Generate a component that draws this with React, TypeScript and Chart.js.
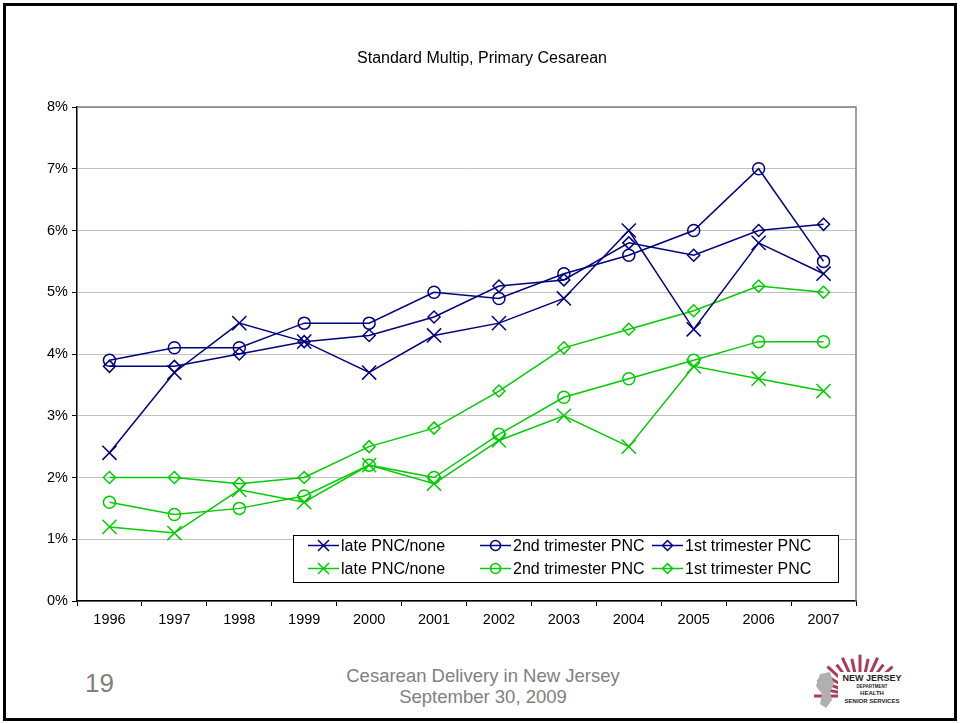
import React, { useEffect, useRef } from "react";
import { Chart, registerables } from "chart.js";

Chart.register(...registerables);

const years = ["1996", "1997", "1998", "1999", "2000", "2001", "2002", "2003", "2004", "2005", "2006", "2007"];

const blueLate = [2.4, 3.7, 4.5, 4.2, 3.7, 4.3, 4.5, 4.9, 6.0, 4.4, 5.8, 5.3];
const blueSecond = [3.9, 4.1, 4.1, 4.5, 4.5, 5.0, 4.9, 5.3, 5.6, 6.0, 7.0, 5.5];
const blueFirst = [3.8, 3.8, 4.0, 4.2, 4.3, 4.6, 5.1, 5.2, 5.8, 5.6, 6.0, 6.1];
const greenLate = [1.2, 1.1, 1.8, 1.6, 2.2, 1.9, 2.6, 3.0, 2.5, 3.8, 3.6, 3.4];
const greenSecond = [1.6, 1.4, 1.5, 1.7, 2.2, 2.0, 2.7, 3.3, 3.6, 3.9, 4.2, 4.2];
const greenFirst = [2.0, 2.0, 1.9, 2.0, 2.5, 2.8, 3.4, 4.1, 4.4, 4.7, 5.1, 5.0];

const seriesLabels = ["late PNC/none", "2nd trimester PNC", "1st trimester PNC", "late PNC/none", "2nd trimester PNC", "1st trimester PNC"];
const yTicks = [0, 1, 2, 3, 4, 5, 6, 7, 8];

const NAVY = "#000080";
const GREEN = "#00CC00";
const FONT = "'Liberation Sans', Arial, sans-serif";

type Mk = "crossRot" | "circle" | "rectRot";
const markerRadius: Record<Mk, number> = { crossRot: 10, circle: 6, rectRot: 6 };

function drawMarker(ctx: CanvasRenderingContext2D, style: Mk, x: number, y: number, s: number) {
  ctx.beginPath();
  if (style === "crossRot") {
    ctx.moveTo(x - s, y - s);
    ctx.lineTo(x + s, y + s);
    ctx.moveTo(x + s, y - s);
    ctx.lineTo(x - s, y + s);
  } else if (style === "circle") {
    ctx.arc(x, y, s, 0, Math.PI * 2);
  } else {
    ctx.moveTo(x - s, y);
    ctx.lineTo(x, y - s);
    ctx.lineTo(x + s, y);
    ctx.lineTo(x, y + s);
    ctx.closePath();
  }
  ctx.stroke();
}

const plotBorderPlugin = {
  id: "plotBorder",
  beforeDatasetsDraw(chart: any) {
    const { ctx, chartArea: a } = chart;
    ctx.save();
    ctx.strokeStyle = "#808080";
    ctx.lineWidth = 1.5;
    ctx.beginPath();
    ctx.moveTo(a.left, a.top);
    ctx.lineTo(a.right, a.top);
    ctx.lineTo(a.right, a.bottom);
    ctx.stroke();
    ctx.restore();
  },
};

const boxLegendPlugin = {
  id: "boxLegend",
  afterDraw(chart: any) {
    const { ctx, chartArea: a } = chart;
    const x0 = a.left + 216;
    const y0 = a.top + 428;
    const w = 545;
    const h = 47;
    ctx.save();
    ctx.fillStyle = "#ffffff";
    ctx.fillRect(x0, y0, w, h);
    ctx.strokeStyle = "#000000";
    ctx.lineWidth = 1;
    ctx.strokeRect(x0 + 0.5, y0 + 0.5, w, h);
    const colX = [15, 187, 359];
    const rowY = [10.5, 33.5];
    chart.data.datasets.forEach((ds: any, i: number) => {
      const cx = x0 + colX[i % 3];
      const cy = y0 + rowY[Math.floor(i / 3)];
      ctx.strokeStyle = ds.borderColor;
      ctx.lineWidth = 1.5;
      ctx.beginPath();
      ctx.moveTo(cx, cy);
      ctx.lineTo(cx + 31, cy);
      ctx.stroke();
      const st = ds.pointStyle as Mk;
      drawMarker(ctx, st, cx + 15.5, cy, st === "crossRot" ? 5.5 : 5);
      ctx.fillStyle = "#000000";
      ctx.font = `16px ${FONT}`;
      ctx.textBaseline = "middle";
      ctx.textAlign = "left";
      ctx.fillText(ds.label, cx + 33, cy + 1);
    });
    ctx.restore();
  },
};

function makeDs(label: string, data: number[], color: string, style: Mk) {
  return {
    label,
    data,
    borderColor: color,
    backgroundColor: "transparent",
    borderWidth: 1.5,
    pointStyle: style,
    pointRadius: markerRadius[style],
    pointBorderWidth: 1.5,
    pointBorderColor: color,
    pointBackgroundColor: "transparent",
    tension: 0,
  };
}

function Logo() {
  const rays = [];
  const cx = 860;
  const cy = 696;
  for (let i = 0; i < 17; i++) {
    const ang = Math.PI * (1.0 + i / 16);
    const r1 = 16;
    const r2 = 42 + (i % 2 === 0 ? 4 : 0);
    rays.push(
      <line
        key={i}
        x1={cx + r1 * Math.cos(ang)}
        y1={cy + r1 * 0.9 * Math.sin(ang)}
        x2={cx + r2 * Math.cos(ang)}
        y2={cy + r2 * 0.9 * Math.sin(ang)}
        stroke="#9b1c3c"
        strokeWidth={3}
        opacity={0.85}
      />
    );
  }
  return (
    <svg width={960} height={723} style={{ position: "absolute", left: 0, top: 0, pointerEvents: "none" }}>
      <g>{rays}</g>
      <rect x={838} y={672} width={68} height={36} fill="#ffffff" />
      <path d="M820 674 L830 672 L834 684 L830 692 L832 700 L826 708 L820 704 L822 694 L816 686 Z" fill="#b0b0b0" />
      <text x={872} y={681} textAnchor="middle" fontFamily={FONT} fontWeight="bold" fontSize={9} fill="#222">NEW JERSEY</text>
      <text x={872} y={688} textAnchor="middle" fontFamily={FONT} fontWeight="bold" fontSize={4.5} fill="#222">DEPARTMENT</text>
      <text x={872} y={695} textAnchor="middle" fontFamily={FONT} fontWeight="bold" fontSize={6} fill="#222">HEALTH</text>
      <text x={872} y={703} textAnchor="middle" fontFamily={FONT} fontWeight="bold" fontSize={6} fill="#222">SENIOR SERVICES</text>
    </svg>
  );
}

export default function App() {
  const ref = useRef<HTMLCanvasElement | null>(null);

  useEffect(() => {
    if (!ref.current) return;
    const chart = new Chart(ref.current, {
      type: "line",
      data: {
        labels: years,
        datasets: [
          makeDs(seriesLabels[0], blueLate, NAVY, "crossRot"),
          makeDs(seriesLabels[1], blueSecond, NAVY, "circle"),
          makeDs(seriesLabels[2], blueFirst, NAVY, "rectRot"),
          makeDs(seriesLabels[3], greenLate, GREEN, "crossRot"),
          makeDs(seriesLabels[4], greenSecond, GREEN, "circle"),
          makeDs(seriesLabels[5], greenFirst, GREEN, "rectRot"),
        ],
      },
      options: {
        animation: false,
        responsive: false,
        layout: { padding: { left: 0, right: 104, top: 107, bottom: 0 } },
        plugins: {
          legend: { display: false },
          tooltip: { enabled: false },
          title: { display: false },
        },
        scales: {
          x: {
            offset: true,
            afterFit: (s: any) => {
              s.height = 39;
            },
            grid: {
              offset: true,
              drawOnChartArea: false,
              drawTicks: true,
              tickLength: 5,
              tickColor: "#000000",
              tickWidth: 1,
            },
            border: { color: "#000000", width: 1.5 },
            ticks: {
              color: "#000000",
              font: { family: FONT, size: 14.5 },
              padding: 5,
              maxRotation: 0,
              autoSkip: false,
            },
          },
          y: {
            min: yTicks[0],
            max: yTicks[yTicks.length - 1],
            afterFit: (s: any) => {
              s.width = 77;
            },
            afterBuildTicks: (s: any) => {
              s.ticks = yTicks.map((v) => ({ value: v }));
            },
            grid: {
              color: "#C0C0C0",
              lineWidth: 1,
              drawTicks: true,
              tickLength: 5,
              tickColor: "#000000",
            },
            border: { color: "#000000", width: 1.5 },
            ticks: {
              color: "#000000",
              font: { family: FONT, size: 14.5 },
              padding: 4,
              callback: (v: any) => `${v}%`,
            },
          },
        },
      },
      plugins: [plotBorderPlugin, boxLegendPlugin],
    });
    return () => chart.destroy();
  }, []);

  return (
    <div style={{ position: "absolute", left: 0, top: 0, width: 960, height: 723, background: "#ffffff", overflow: "hidden" }}>
      <div
        style={{
          position: "absolute",
          left: 3,
          top: 3,
          width: 954,
          height: 718,
          border: "3px solid #000000",
          boxSizing: "border-box",
        }}
      />
      <canvas ref={ref} width={960} height={640} style={{ position: "absolute", left: 0, top: 0, width: 960, height: 640 }} />
      <div
        style={{
          position: "absolute",
          left: 282,
          width: 400,
          top: 47,
          textAlign: "center",
          fontFamily: FONT,
          fontSize: 16,
          color: "#000000",
          lineHeight: "22px",
        }}
      >
        Standard Multip, Primary Cesarean
      </div>
      <div
        style={{
          position: "absolute",
          left: 85,
          top: 667,
          fontFamily: FONT,
          fontSize: 26,
          color: "#808080",
          lineHeight: "32px",
        }}
      >
        19
      </div>
      <div
        style={{
          position: "absolute",
          left: 233,
          width: 500,
          top: 665,
          textAlign: "center",
          fontFamily: FONT,
          fontSize: 18.5,
          color: "#808080",
          lineHeight: "21px",
        }}
      >
        Cesarean Delivery in New Jersey
        <br />
        September 30, 2009
      </div>
      <Logo />
    </div>
  );
}
